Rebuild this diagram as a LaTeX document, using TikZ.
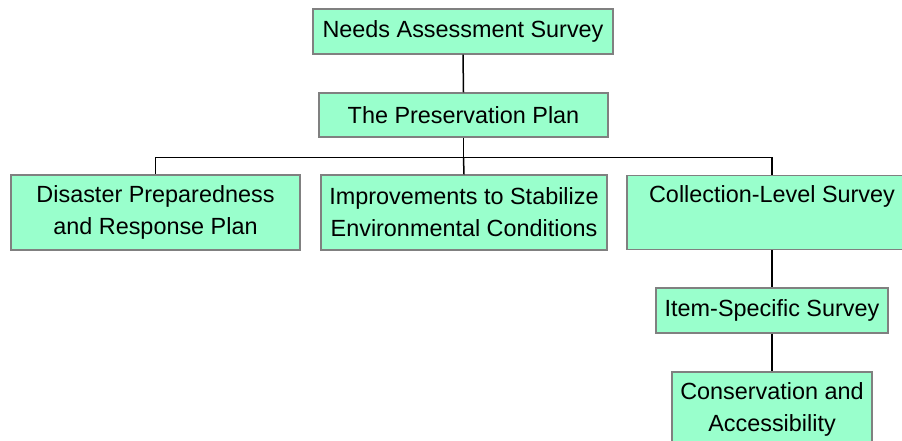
\documentclass[tikz,border=0pt]{standalone}
\usepackage{fontspec}
\setmainfont{Liberation Sans}
\definecolor{boxfill}{HTML}{99FFCC}
\definecolor{boxline}{HTML}{808080}
\begin{document}
\begin{tikzpicture}[x=1pt,y=-1pt,
  box/.style={draw=boxline, fill=boxfill, line width=1.3pt, inner sep=0pt, align=center,
    font=\fontsize{23.4}{32}\selectfont},
  conn/.style={draw=black, line width=1.5pt}]
\useasboundingbox (0,0) rectangle (902,441);
\clip (0,0) rectangle (902,441);
\node[box, minimum width=300pt, minimum height=45pt] (needs) at (463,31.5) {Needs Assessment Survey};
\node[box, minimum width=289pt, minimum height=44pt] (pres) at (463.5,115) {The Preservation Plan};
\node[box, minimum width=289pt, minimum height=75pt] (dis) at (155.5,212.5) {Disaster Preparedness\\and Response Plan};
\node[box, minimum width=286pt, minimum height=75pt] (imp) at (464,212.5) {Improvements to Stabilize\\Environmental Conditions};
\node[box, minimum width=290pt, minimum height=74pt] (coll) at (772,212.5) {\raisebox{-5pt}{Collection-Level Survey}\\\strut};
\node[box, minimum width=232pt, minimum height=45pt] (item) at (772,310.5) {Item-Specific Survey};
\node[box, minimum width=200pt, minimum height=75pt] (cons) at (772,409.5) {Conservation and\\Accessibility};
\coordinate (junc) at ([yshift=-20pt]pres.south);
\draw[conn] (needs.south) -- (pres.north);
\draw[conn] (pres.south) -- (junc);
\draw[conn] (junc) -| (dis.north);
\draw[conn] (junc) -- (imp.north);
\draw[conn] (junc) -| (coll.north);
\draw[conn] (coll.south) -- (item.north);
\draw[conn] (item.south) -- (cons.north);
\end{tikzpicture}
\end{document}
